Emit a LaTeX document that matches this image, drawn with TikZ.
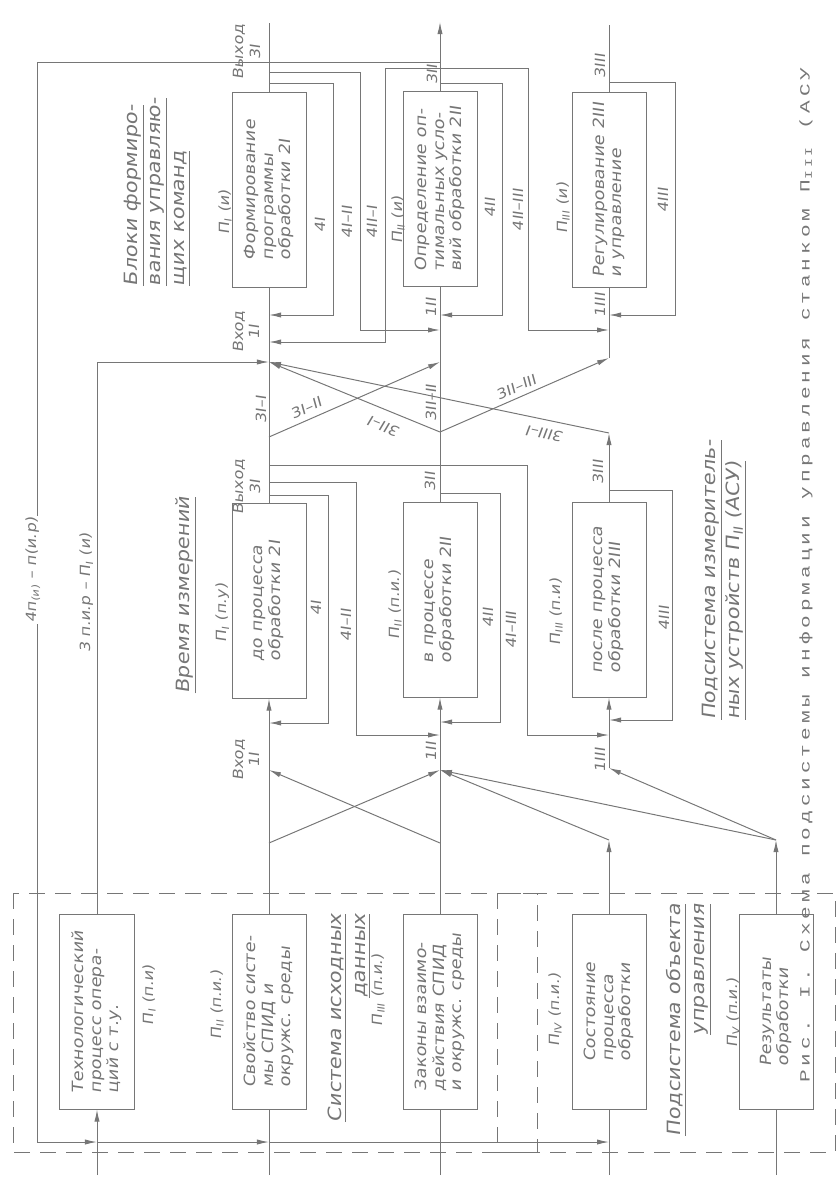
\documentclass[tikz,border=0pt]{standalone}
\usepackage{fontspec}
\setmainfont{DejaVu Sans}[FakeSlant=0.15,FakeStretch=1.15]
\newfontfamily\typewr{Liberation Mono}[FakeStretch=1.5,LetterSpace=28]
\usetikzlibrary{arrows.meta}

\definecolor{ink}{RGB}{118,118,118}
\newcommand{\Pn}[1]{П\textsubscript{#1}}

\begin{document}
\begin{tikzpicture}[x=0.025cm, y=-0.025cm,
    blk/.style={draw=ink, line width=0.7pt, rotate=90, minimum width=48.5mm, minimum height=18.5mm,
      align=left, inner sep=2pt, text=ink, font=\fontsize{11}{12.5}\selectfont},
    lbl/.style={rotate=90, text=ink, inner sep=1pt, font=\fontsize{10}{11.5}\selectfont},
    hdr/.style={lbl, font=\fontsize{13}{17}\selectfont},
    ln/.style={draw=ink, line width=0.7pt},
    arr/.style={ln, -{Latex[length=3mm,width=1.3mm]}},
    frame/.style={draw=ink, line width=0.7pt, dash pattern=on 4mm off 2.5mm}
  ]
  \useasboundingbox (0,0) rectangle (839,1185);

  % blocks
  \node[blk] (formI) at (269,190) {Формирование\\программы\\обработки 2I};
  \node[blk] (formII) at (440,189) {Определение оп-\\тимальных усло-\\вий обработки 2II};
  \node[blk] (formIII) at (609,190) {Регулирование 2III\\и управление};
  \node[blk] (measI) at (269,601) {до процесса\\обработки 2I};
  \node[blk] (measII) at (440,600) {в процессе\\обработки 2II};
  \node[blk] (measIII) at (609,600) {после процесса\\обработки 2III};
  \node[blk] (srcA) at (97,1012) {Технологический\\процесс опера-\\ций с т.у.};
  \node[blk] (srcB) at (269,1012) {Свойство систе-\\мы СПИД и\\окружс. среды};
  \node[blk] (srcC) at (440,1012) {Законы взаимо-\\действия СПИД\\и окружс. среды};
  \node[blk] (srcD) at (609,1012) {Состояние\\процесса\\обработки};
  \node[blk] (srcE) at (776,1012) {Результаты\\обработки};

  % junctions
  \coordinate (topI) at (269,23);
  \coordinate (topII) at (440,22);
  \coordinate (topIII) at (609,25);
  \coordinate (fbII) at (440,62);
  \coordinate (jIIa) at (440,68);
  \coordinate (jIa) at (269,72);
  \coordinate (jIb) at (269,83);
  \coordinate (jIIb) at (440,83);
  \coordinate (jIIIa) at (609,82);
  \coordinate (iIa) at (269,315);
  \coordinate (iIIa) at (440,315);
  \coordinate (iIIIa) at (609,315);
  \coordinate (iIIb) at (440,330);
  \coordinate (iIIIb) at (609,330);
  \coordinate (iIb) at (269,342);
  \coordinate (inI) at (269,362);
  \coordinate (inII) at (440,362);
  \coordinate (inIII) at (609,358);
  \coordinate (oI) at (269,437);
  \coordinate (oII) at (440,432);
  \coordinate (oIII) at (609,433);
  \coordinate (mI3) at (269,465);
  \coordinate (mI2) at (269,482);
  \coordinate (mI1) at (269,495);
  \coordinate (mII1) at (440,493);
  \coordinate (mIII1) at (609,490);
  \coordinate (miIII1) at (609,720);
  \coordinate (miII1) at (440,722);
  \coordinate (miI1) at (269,723);
  \coordinate (miII2) at (440,735);
  \coordinate (miIII2) at (609,735);
  \coordinate (xI) at (269,770);
  \coordinate (xII) at (440,770);
  \coordinate (xIII) at (609,768);
  \coordinate (dB) at (269,843);
  \coordinate (dC) at (440,843);
  \coordinate (dD) at (609,840);
  \coordinate (dE) at (776,840);
  \coordinate (fbL) at (37,1142);
  \coordinate (fA) at (97,1142);
  \coordinate (fB) at (269,1142);
  \coordinate (fD) at (609,1142);
  \coordinate (bA) at (97,1175);
  \coordinate (bB) at (269,1175);
  \coordinate (bC) at (440,1175);
  \coordinate (bD) at (609,1175);
  \coordinate (bE) at (776,1175);

  % frames of the subsystems
  \draw[frame] (13,893) rectangle (537,1152);
  \draw[frame] (497,893) rectangle (835,1152);

  % outputs
  \draw[ln] (formI.east) -- (topI);
  \draw[arr] (formII.east) -- (topII);
  \draw[ln] (formIII.east) -- (topIII);

  % command blocks loops
  \draw[arr] (jIb) -- ++(64,0) |- (iIa);
  \draw[arr] (jIa) -- ++(91,0) |- (iIIb);
  \draw[arr] (jIIa) -- ++(-55,0) |- (iIb);
  \draw[arr] (jIIb) -- ++(62,0) |- (iIIa);
  \draw[arr] (jIIa) -- ++(88,0) |- (iIIIb);
  \draw[arr] (jIIIa) -- ++(66,0) |- (iIIIa);

  % feedback
  \draw[ln] (fbII) -| (fbL);
  \draw[arr] (fbL) -- (fA);
  \draw[arr] (fA) -- (fB);
  \draw[arr] (fB) -- (fD);
  \node[lbl, fill=white] (fbtxt) at (33,570) {4п\textsubscript{(и)} – п(и.р)};
  \draw[arr] (srcA.east) |- (inI);
  \node[lbl] (tprtxt) at (87,593) {3 п.и.р – \Pn{I} (и)};

  % columns
  \draw[ln] (measI.east) -- (formI.west);
  \draw[ln] (measII.east) -- (formII.west);
  \draw[arr] (measIII.east) -- (oIII);
  \draw[ln] (inIII) -- (formIII.west);

  % cross links
  \draw[arr] (oI) -- (inII);
  \draw[arr] (oII) -- (inI);
  \draw[arr] (oIII) -- (inI);
  \draw[arr] (oII) -- (inIII);

  % measuring loops
  \draw[arr] (mI1) -- ++(59,0) |- (miI1);
  \draw[arr] (mI2) -- ++(87,0) |- (miII2);
  \draw[arr] (mI3) -- ++(258,0) |- (miIII2);
  \draw[arr] (mII1) -- ++(60,0) |- (miII1);
  \draw[arr] (mIII1) -- ++(63,0) |- (miIII1);

  % inputs of measuring blocks
  \draw[arr] (srcB.east) -- (measI.west);
  \draw[arr] (srcC.east) -- (measII.west);
  \draw[arr] (xIII) -- (measIII.west);
  \draw[arr] (srcD.east) -- (dD);
  \draw[arr] (srcE.east) -- (dE);
  \draw[arr] (dB) -- (xII);
  \draw[arr] (dC) -- (xI);
  \draw[arr] (dD) -- (xII);
  \draw[arr] (dE) -- (xII);
  \draw[arr] (dE) -- (xIII);

  % inputs from below
  \draw[arr] (bA) -- (srcA.west);
  \draw[ln] (bB) -- (srcB.west);
  \draw[ln] (bC) -- (srcC.west);
  \draw[ln] (bD) -- (srcD.west);
  \draw[ln] (bE) -- (srcE.west);

  % labels, command blocks
  \node[lbl, align=center] (outIlbl) at (247,52) {Выход\\3I};
  \node[lbl] (outIIlbl) at (432,75) {3II};
  \node[lbl] (outIIIlbl) at (600,66) {3III};
  \node[hdr, align=left] (blocks) at (157,192) {\underline{Блоки формиро-}\\\underline{вания управляю-}\\\underline{щих команд}};
  \node[lbl] (pIu) at (225,212) {\Pn{I} (и)};
  \node[lbl] (t4I) at (320,225) {4I};
  \node[lbl] (t4III) at (347,222) {4I–II};
  \node[lbl] (t4IIIa) at (372,222) {4II–I};
  \node[lbl] (pIIu) at (398,220) {\Pn{II} (и)};
  \node[lbl] (t4II) at (490,208) {4II};
  \node[lbl] (t4IIb) at (518,210) {4II–III};
  \node[lbl] (pIIIu) at (563,208) {\Pn{III} (и)};
  \node[lbl] (t4IIIb) at (663,200) {4III};
  \node[lbl, align=center] (inIlbl) at (246,332) {Вход\\1I};
  \node[lbl] (inIIlbl) at (431,308) {1II};
  \node[lbl] (inIIIlbl) at (600,305) {1III};

  % labels, cross links
  \node[lbl] (c11) at (261,410) {3I–I};
  \node[lbl, rotate=-66] (c12) at (306,408) {3I–II};
  \node[lbl, rotate=67.7] (c21) at (384,427) {3II–I};
  \node[lbl] (c22) at (431,403) {3II–II};
  \node[lbl, rotate=-66.4] (c23) at (516,387) {3II–III};
  \node[lbl, rotate=78] (c31) at (545,434) {3III–I};

  % labels, measuring blocks
  \node[lbl, align=center] (moutI) at (247,487) {Выход\\3I};
  \node[lbl] (moutII) at (430,482) {3II};
  \node[lbl] (moutIII) at (598,472) {3III};
  \node[hdr] (mtime) at (186,595) {\underline{Время измерений}};
  \node[lbl] (pIm) at (223,613) {\Pn{I} (п.у)};
  \node[lbl] (m4I) at (316,608) {4I};
  \node[lbl] (m4III) at (346,625) {4I–II};
  \node[lbl] (pIIm) at (395,605) {\Pn{II} (п.и.)};
  \node[lbl] (m4II) at (488,618) {4II};
  \node[lbl] (m4IIII) at (511,630) {4I–III};
  \node[lbl] (pIIIm) at (556,612) {\Pn{III} (п.и)};
  \node[lbl] (m4IIIb) at (664,618) {4III};
  \node[hdr, align=left] (msub) at (724,580) {\underline{Подсистема измеритель-}\\\underline{ных устройств \Pn{II} (АСУ)}};
  \node[lbl, align=center] (minI) at (246,760) {Вход\\1I};
  \node[lbl] (minII) at (431,752) {1II};
  \node[lbl] (minIII) at (600,760) {1III};

  % labels, initial data
  \node[lbl] (pIs) at (149,995) {\Pn{I} (п.и)};
  \node[lbl] (pIIs) at (217,1005) {\Pn{II} (п.и.)};
  \node[hdr, align=right] (sdata) at (349,1018) {\underline{Система исходных}\\\underline{данных}};
  \node[lbl] (pIIIs) at (378,990) {\Pn{III} (п.и.)};
  \node[lbl] (pIVs) at (555,1010) {\Pn{IV} (п.и.)};
  \node[hdr, align=right] (sobj) at (689,1020) {\underline{Подсистема объекта}\\\underline{управления}};
  \node[lbl] (pVs) at (733,1013) {\Pn{V} (п.и.)};

  % caption
  \node[rotate=90, text=ink, inner sep=0pt, font=\typewr\fontsize{10}{12}\selectfont] (caption) at (806,575)
    {Рис. I. Схема подсистемы информации управления станком \Pn{III} (АСУ};
\end{tikzpicture}
\end{document}
